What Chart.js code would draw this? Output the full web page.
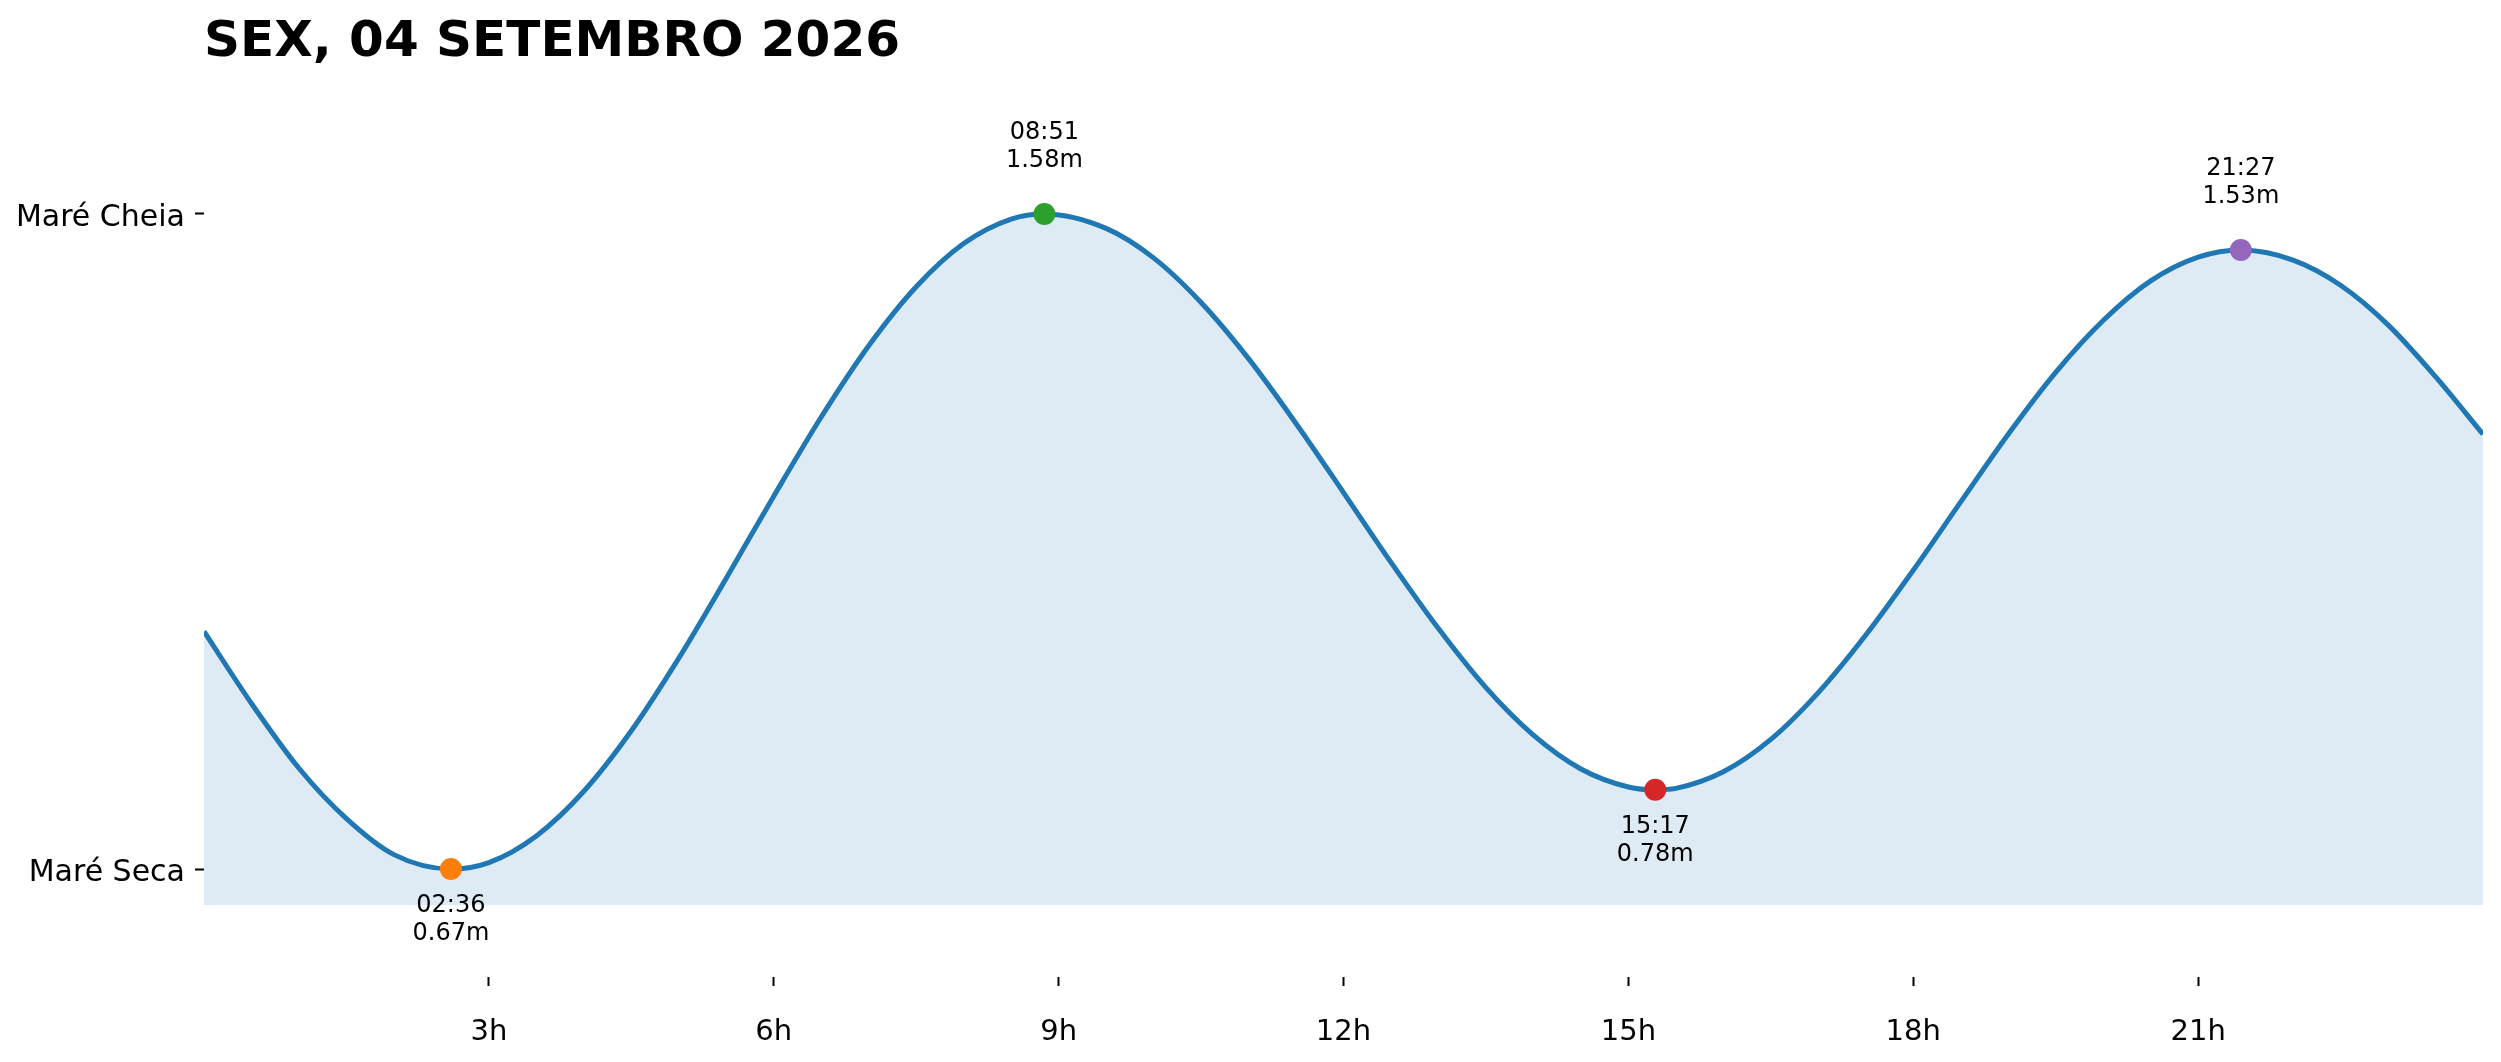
<!DOCTYPE html>
<html>
<head>
<meta charset="utf-8">
<script src="https://cdn.jsdelivr.net/npm/chart.js@4.4.1/dist/chart.umd.min.js"></script>
<style>
  html, body { margin: 0; padding: 0; background: #fff; overflow: hidden; }
  canvas { display: block; }
</style>
</head>
<body>
<canvas id="tideChart" width="2501" height="1062"></canvas>
<script>
// readings taken off the curve (hour of day, height in metres)
const hours = [0, 0.5, 1, 1.5, 2, 2.6, 3, 3.5, 4, 4.5, 5, 5.5, 6, 6.5, 7, 7.5, 8, 8.5, 8.85,
  9.5, 10, 10.5, 11, 11.5, 12, 12.5, 13, 13.5, 14, 14.5, 15, 15.28, 15.5, 16, 16.5, 17, 17.5,
  18, 18.5, 19, 19.5, 20, 20.5, 21, 21.45, 22, 22.5, 23, 23.5, 24];
const heights = [1.00, 0.90, 0.81, 0.74, 0.69, 0.67, 0.679, 0.716, 0.778, 0.862, 0.963, 1.074, 1.188, 1.298, 1.397, 1.479, 1.539, 1.573, 1.58,
  1.560, 1.519, 1.457, 1.379, 1.289, 1.193, 1.096, 1.004, 0.922, 0.856, 0.809, 0.784, 0.78, 0.782, 0.805, 0.850, 0.915, 0.995,
  1.085, 1.180, 1.274, 1.360, 1.432, 1.487, 1.520, 1.53, 1.516, 1.481, 1.426, 1.354, 1.274];

// high / low tide points
const extremeLabels = ['02:36', '08:51', '15:17', '21:27'];
const extremeHours = [2.6, 8.85, 15.283, 21.45];
const extremeHeights = [0.67, 1.58, 0.78, 1.53];
const extremeKinds = ['low', 'high', 'low', 'high'];
const extremeColors = ['#ff7f0e', '#2ca02c', '#d62728', '#9467bd'];

const xTicks = [3, 6, 9, 12, 15, 18, 21];
const yTicks = [0.67, 1.58];
const yTickLabels = ['Maré Seca', 'Maré Cheia'];

const low = Math.min(...heights);
const high = Math.max(...heights);

const FONT = 'DejaVu Sans';

const extremeText = {
  id: 'extremeText',
  afterDatasetsDraw(chart) {
    const ctx = chart.ctx;
    const xs = chart.scales.x, ys = chart.scales.y;
    ctx.save();
    ctx.font = '24px "' + FONT + '"';
    ctx.fillStyle = '#000';
    ctx.textAlign = 'center';
    ctx.textBaseline = 'middle';
    extremeHours.forEach((h, i) => {
      const px = xs.getPixelForValue(h);
      const py = ys.getPixelForValue(extremeHeights[i]);
      const txt2 = extremeHeights[i].toFixed(2) + 'm';
      if (extremeKinds[i] === 'high') {
        ctx.fillText(extremeLabels[i], px, py - 81);
        ctx.fillText(txt2, px, py - 53);
      } else {
        ctx.fillText(extremeLabels[i], px, py + 37);
        ctx.fillText(txt2, px, py + 65);
      }
    });
    ctx.restore();
  }
};

new Chart(document.getElementById('tideChart').getContext('2d'), {
  type: 'line',
  data: {
    datasets: [{
      label: 'Maré',
      order: 2,
      data: hours.map((h, i) => ({ x: h, y: heights[i] })),
      borderColor: '#1f77b4',
      borderWidth: 5,
      backgroundColor: 'rgba(31,119,180,0.15)',
      fill: { value: low - 0.05 },
      pointRadius: 0,
      cubicInterpolationMode: 'monotone'
    }, {
      label: 'Extremos',
      order: 1,
      data: extremeHours.map((h, i) => ({ x: h, y: extremeHeights[i] })),
      showLine: false,
      pointRadius: 11,
      pointBorderWidth: 0,
      pointBackgroundColor: extremeColors,
      pointBorderColor: extremeColors
    }]
  },
  options: {
    responsive: false,
    devicePixelRatio: 1,
    animation: false,
    layout: { padding: { left: 0, right: 18, top: 0, bottom: 0 } },
    plugins: {
      legend: { display: false },
      tooltip: { enabled: false },
      title: {
        display: true,
        text: 'SEX, 04 SETEMBRO 2026',
        align: 'start',
        fullSize: false,
        color: '#000',
        font: { family: FONT, size: 50, weight: 'bold' },
        padding: { top: 13, bottom: 33 }
      }
    },
    scales: {
      x: {
        type: 'linear',
        min: 0,
        max: 24,
        afterBuildTicks: s => { s.ticks = xTicks.map(v => ({ value: v })); },
        afterFit: s => { s.height = 85; },
        ticks: {
          callback: v => v + 'h',
          color: '#000',
          font: { family: FONT, size: 29 },
          padding: 29,
          maxRotation: 0
        },
        grid: { drawOnChartArea: false, drawTicks: true, tickLength: 9, tickWidth: 2, tickColor: '#000' },
        border: { display: false }
      },
      y: {
        type: 'linear',
        min: low - 0.15,
        max: high + 0.15,
        afterBuildTicks: s => { s.ticks = yTicks.map(v => ({ value: v })); },
        afterFit: s => { s.width = 204; },
        ticks: {
          callback: v => yTickLabels[yTicks.indexOf(v)],
          color: '#000',
          font: { family: FONT, size: 30 },
          padding: 10,
          labelOffset: 4
        },
        grid: { drawOnChartArea: false, drawTicks: true, tickLength: 9, tickWidth: 2, tickColor: '#000' },
        border: { display: false }
      }
    }
  },
  plugins: [extremeText]
});
</script>
</body>
</html>
